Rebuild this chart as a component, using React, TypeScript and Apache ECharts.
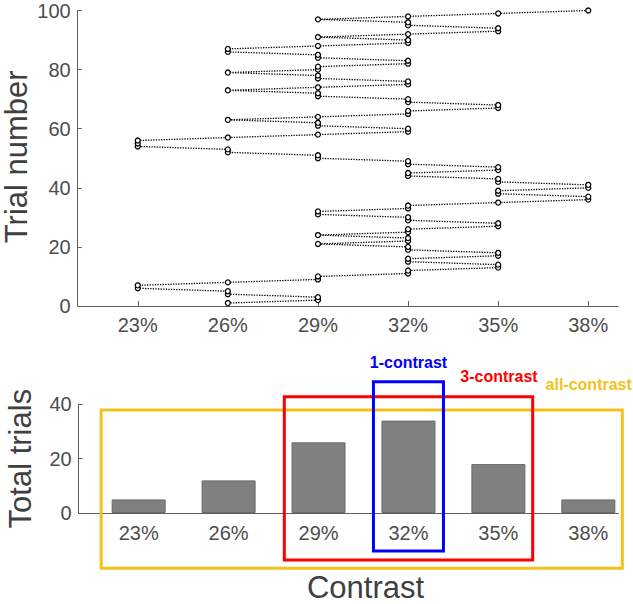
import React, { useEffect, useRef } from "react";
import * as echarts from "echarts";

// ---- data ----
const contrastLevels = [23, 26, 29, 32, 35, 38];
const contrastLabels = ["23%", "26%", "29%", "32%", "35%", "38%"];
// contrast (%) presented on each trial, trial 1..100
const trialContrast = [
  26, 29, 29, 26, 26, 23, 23, 26, 29, 29,
  32, 32, 35, 35, 32, 32, 35, 35, 32, 32,
  29, 32, 32, 29, 32, 32, 35, 35, 32, 32,
  29, 29, 32, 32, 35, 38, 38, 35, 35, 38,
  38, 35, 35, 32, 32, 35, 35, 32, 32, 29,
  29, 26, 26, 23, 23, 23, 26, 29, 32, 32,
  29, 29, 26, 29, 32, 32, 35, 35, 32, 32,
  29, 29, 26, 29, 32, 32, 29, 29, 26, 29,
  29, 32, 32, 29, 29, 26, 26, 29, 32, 32,
  29, 32, 35, 35, 32, 32, 29, 32, 35, 38,
];
const totalTrials = [5, 12, 26, 34, 18, 5];
const trialTicks = [0, 20, 40, 60, 80, 100];
const countTicks = [0, 20, 40];
const groupNames = ["all-contrast", "3-contrast", "1-contrast"];
const groupLevels = [
  [23, 26, 29, 32, 35, 38],
  [29, 32, 35],
  [32],
];

const FONT = "'Liberation Sans', Arial, Helvetica, sans-serif";
const LABEL_COLOR = "#4d4d4d";
const AXIS_COLOR = "#5f5f5f";

// annotation box styling (pixels)
const boxStyles = [
  { color: "#F2C21B", padL: 37.5, padR: 34, top: 410, bottom: 568.3, textDx: 9.5, textDy: -26, align: "right" },
  { color: "#FF0000", padL: 34.2, padR: 34.3, top: 396.7, bottom: 560, textDx: 5, textDy: -20, align: "right" },
  { color: "#0000FF", padL: 35, padR: 35, top: 381.7, bottom: 551, textDx: 0, textDy: -19, align: "center" },
];

export default function App() {
  const ref = useRef<HTMLDivElement>(null);

  useEffect(() => {
    if (!ref.current) return;
    const chart = echarts.init(ref.current, null, { renderer: "svg" });

    const lineData = trialContrast.map((c, i) => [c, i + 1]);
    const barData = contrastLevels.map((c, i) => [c, totalTrials[i]]);

    const xAxisBase = (gridIndex: number, showTicks: boolean, labelMargin: number) => ({
      type: "value",
      gridIndex,
      min: 21,
      max: 39,
      axisLine: { show: true, lineStyle: { color: AXIS_COLOR, width: 1 } },
      axisTick: {
        show: showTicks,
        inside: true,
        length: 5,
        customValues: contrastLevels,
        lineStyle: { color: AXIS_COLOR },
      },
      axisLabel: {
        customValues: contrastLevels,
        formatter: (v: number) => contrastLabels[contrastLevels.indexOf(Math.round(v))] ?? "",
        color: LABEL_COLOR,
        fontSize: 20,
        fontFamily: FONT,
        margin: labelMargin,
      },
      splitLine: { show: false },
    });

    chart.setOption({
      animation: false,
      backgroundColor: "#ffffff",
      grid: [
        { left: 77.7, right: 14.7, top: 10.5, height: 295.5, outerBoundsMode: "none", containLabel: false },
        { left: 78.7, right: 14.7, top: 404.3, height: 108.7, outerBoundsMode: "none", containLabel: false },
      ],
      xAxis: [
        xAxisBase(0, true, 9),
        {
          ...xAxisBase(1, false, 10),
          name: "Contrast",
          nameLocation: "middle",
          nameGap: 59,
          nameTextStyle: { fontSize: 31, color: "#404040", fontFamily: FONT, padding: [0, 0, 0, 34] },
        },
      ],
      yAxis: [
        {
          type: "value",
          gridIndex: 0,
          min: trialTicks[0],
          max: trialTicks[trialTicks.length - 1],
          interval: 20,
          axisLine: { show: true, lineStyle: { color: AXIS_COLOR } },
          axisTick: { show: true, inside: true, length: 4, lineStyle: { color: AXIS_COLOR } },
          axisLabel: { color: LABEL_COLOR, fontSize: 20, fontFamily: FONT, margin: 7 },
          splitLine: { show: false },
        },
        {
          type: "value",
          gridIndex: 1,
          min: countTicks[0],
          max: countTicks[countTicks.length - 1],
          interval: 20,
          name: "Total trials",
          nameLocation: "middle",
          nameGap: 43,
          nameTextStyle: { fontSize: 31, color: "#404040", fontFamily: FONT },
          axisLine: { show: true, lineStyle: { color: AXIS_COLOR } },
          axisTick: { show: true, inside: true, length: 4, lineStyle: { color: AXIS_COLOR } },
          axisLabel: { color: LABEL_COLOR, fontSize: 20, fontFamily: FONT, margin: 7 },
          splitLine: { show: false },
        },
      ],
      series: [
        {
          type: "line",
          xAxisIndex: 0,
          yAxisIndex: 0,
          data: lineData,
          symbol: "circle",
          symbolSize: 5,
          showSymbol: true,
          itemStyle: { color: "#ffffff", borderColor: "#000000", borderWidth: 1.3 },
          lineStyle: { color: "#000000", width: 1.3, type: [1.3, 1.3] },
          z: 3,
        },
        {
          type: "bar",
          xAxisIndex: 1,
          yAxisIndex: 1,
          data: barData,
          barWidth: 54,
          itemStyle: { color: "#808080", borderColor: "#6a6a6a", borderWidth: 1 },
        },
      ],
    });

    const graphics: any[] = [];
    groupLevels.forEach((levels, gi) => {
      const st = boxStyles[gi];
      const lo = Math.min(...levels);
      const hi = Math.max(...levels);
      const pLo = chart.convertToPixel({ gridIndex: 1 }, [lo, 0]) as number[];
      const pHi = chart.convertToPixel({ gridIndex: 1 }, [hi, 0]) as number[];
      const x0 = pLo[0] - st.padL;
      const x1 = pHi[0] + st.padR;
      graphics.push({
        type: "rect",
        shape: { x: x0, y: st.top, width: x1 - x0, height: st.bottom - st.top },
        style: { fill: "none", stroke: st.color, lineWidth: 3 },
        z: 100 + gi,
      });
      const tx = st.align === "center" ? (x0 + x1) / 2 : x1 + st.textDx;
      graphics.push({
        type: "text",
        x: tx,
        y: st.top + st.textDy,
        style: {
          text: groupNames[gi],
          fill: st.color,
          font: `bold 16px ${FONT}`,
          textAlign: st.align,
          textVerticalAlign: "middle",
        },
        z: 110,
      });
    });
    // y-axis title of the top panel
    const mid = chart.convertToPixel({ gridIndex: 0 }, [21, 50]) as number[];
    graphics.push({
      type: "text",
      x: 16,
      y: mid[1] - 1.5,
      rotation: Math.PI / 2,
      style: {
        text: "Trial number",
        fill: "#404040",
        font: `31px ${FONT}`,
        textAlign: "center",
        textVerticalAlign: "middle",
      },
      z: 110,
    });
    chart.setOption({ graphic: graphics });

    return () => chart.dispose();
  }, []);

  return (
    <div
      ref={ref}
      style={{ position: "fixed", left: 0, top: 0, width: 633, height: 604, background: "#fff" }}
    />
  );
}
